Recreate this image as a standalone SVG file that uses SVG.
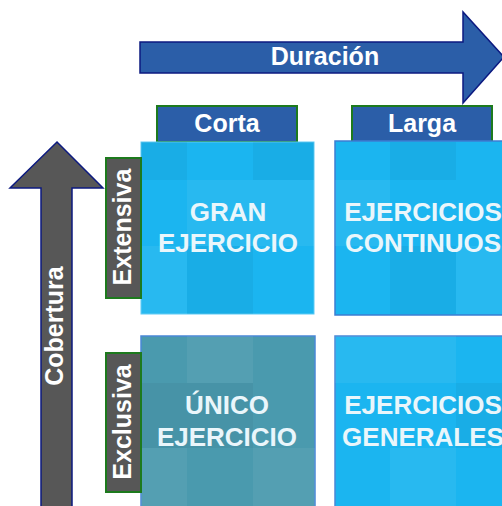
<svg xmlns="http://www.w3.org/2000/svg" width="502" height="506" viewBox="0 0 502 506">
<style>
.lbl{font-family:"Liberation Sans",Arial,sans-serif;font-weight:bold;font-size:25px;fill:#ffffff;text-anchor:middle}
.qt{font-family:"Liberation Sans",Arial,sans-serif;font-weight:bold;font-size:26px;fill:#eaf6fb;text-anchor:middle}
.hbox{fill:#2b5ea8;stroke:#1d7a1d;stroke-width:2}
.vbox{fill:#575757;stroke:#1d7a1d;stroke-width:2}
.qblue{fill:#1bb5f0}
.qteal{fill:#4a9aae}
.lt{fill:#ffffff;opacity:0.06}
.dk{fill:#000000;opacity:0.04}
</style>
<rect width="502" height="506" fill="#ffffff"/>
<g id="axes">
<path id="duracion-arrow" d="M140,42 L463,42 L463,12 L504,57 L463,103 L463,73 L140,73 Z" fill="#2b5ea8" stroke="#0c1a80" stroke-width="1.5"/>
<text class="lbl" x="325" y="65">Duración</text>
<path id="cobertura-arrow" d="M41,510 L41,188 L10,188 L57,142 L103,188 L72,188 L72,510 Z" fill="#575757" stroke="#0c1a80" stroke-width="1.5"/>
<text class="lbl" transform="translate(63,326) rotate(-90)">Cobertura</text>
</g>
<g id="corta">
<rect class="hbox" x="157" y="106" width="140" height="36"/>
<text class="lbl" x="227" y="132">Corta</text>
</g>
<g id="larga">
<rect class="hbox" x="352" y="106" width="140" height="36"/>
<text class="lbl" x="422" y="132">Larga</text>
</g>
<g id="gran-ejercicio">
<rect class="qblue" x="141" y="142" width="173" height="172" stroke="#5ccaf5" stroke-width="1"/>
<rect class="dk" x="141" y="142" width="46" height="38"/>
<rect class="lt" x="187" y="180" width="66" height="66"/>
<rect class="lt" x="253" y="180" width="61" height="66"/>
<rect class="dk" x="253" y="142" width="61" height="38"/>
<rect class="lt" x="141" y="246" width="46" height="68"/>
<rect class="dk" x="187" y="246" width="66" height="68"/>
<text class="qt" x="228" y="221">GRAN</text>
<text class="qt" x="228" y="252">EJERCICIO</text>
</g>
<g id="ejercicios-continuos">
<rect class="qblue" x="335" y="141" width="180" height="174" stroke="#3d7ed2" stroke-width="1.5"/>
<rect class="lt" x="335" y="180" width="55" height="66"/>
<rect class="dk" x="390" y="142" width="66" height="38"/>
<rect class="lt" x="456" y="246" width="50" height="68"/>
<rect class="dk" x="390" y="246" width="66" height="68"/>
<text class="qt" x="423" y="221">EJERCICIOS</text>
<text class="qt" x="423" y="252">CONTINUOS</text>
</g>
<g id="unico-ejercicio">
<rect class="qteal" x="141" y="336" width="174" height="175" stroke="#4a88d6" stroke-width="1.5"/>
<rect class="lt" x="187" y="336" width="66" height="47"/>
<rect class="dk" x="141" y="383" width="46" height="65"/>
<rect class="lt" x="253" y="448" width="62" height="60"/>
<rect class="dk" x="187" y="383" width="66" height="65"/>
<rect class="lt" x="141" y="448" width="46" height="60"/>
<text class="qt" x="227" y="414">ÚNICO</text>
<text class="qt" x="227" y="446">EJERCICIO</text>
</g>
<g id="ejercicios-generales">
<rect class="qblue" x="335" y="336" width="180" height="175" stroke="#4a88d6" stroke-width="1.5"/>
<rect class="lt" x="335" y="336" width="55" height="47"/>
<rect class="lt" x="390" y="336" width="66" height="47"/>
<rect class="dk" x="456" y="383" width="50" height="65"/>
<rect class="lt" x="390" y="448" width="66" height="60"/>
<text class="qt" x="423" y="414">EJERCICIOS</text>
<text class="qt" x="423" y="446">GENERALES</text>
</g>
<g id="extensiva">
<rect class="vbox" x="106" y="158" width="35" height="140"/>
<text class="lbl" transform="translate(131,227) rotate(-90)">Extensiva</text>
</g>
<g id="exclusiva">
<rect class="vbox" x="106" y="353" width="35" height="139"/>
<text class="lbl" transform="translate(131,422) rotate(-90)">Exclusiva</text>
</g>
</svg>
